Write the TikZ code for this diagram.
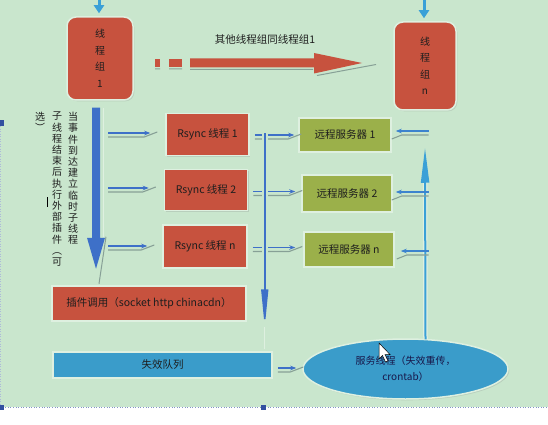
\documentclass[tikz,border=0pt]{standalone}
\usepackage{fontspec}
\setmainfont{Noto Sans CJK SC}
\usetikzlibrary{arrows.meta,calc,shadows,shapes.geometric}
\definecolor{bgc}{RGB}{201,230,205}
\definecolor{redc}{RGB}{199,82,62}
\definecolor{olivec}{RGB}{155,176,74}
\definecolor{bluec}{RGB}{58,156,202}
\definecolor{royal}{RGB}{62,112,200}
\definecolor{skyc}{RGB}{58,160,215}
\definecolor{shadc}{RGB}{135,160,150}
\definecolor{rimc}{RGB}{222,240,224}
\definecolor{gridc}{RGB}{50,80,160}
\definecolor{txtc}{RGB}{30,30,30}
\newcommand{\myrarrow}[2]{%
  \draw[shadc, line width=1.1pt] ($(#1)+(0,4)$) -- ($(#2)+(-6,4)$) -- ($(#2)+(7,-1)$);
  \draw[royal, line width=1.4pt, -{Stealth[length=6pt,width=4.5pt]}] (#1) -- (#2);}
\newcommand{\mylarrow}[2]{%
  \draw[shadc, line width=1.1pt] ($(#1)+(0,4)$) -- ($(#2)+(6,4)$) -- ($(#2)+(-4,8)$);
  \draw[royal!60!skyc, line width=1.4pt, -{Stealth[length=6pt,width=4.5pt]}] (#1) -- (#2);}
\begin{document}
\begin{tikzpicture}[x=1pt,y=-1pt,
  txt/.style={text=txtc},
  shad/.style={drop shadow={shadow xshift=1.3pt, shadow yshift=-1.3pt, opacity=.22}},
  grp/.style={rounded corners=9pt, fill=redc, draw=rimc, line width=1.5pt, align=center,
    inner sep=0pt, font=\fontsize{10}{16.5}\selectfont, text=txtc, shad},
  box/.style={fill=#1, draw=rimc, line width=1.5pt, inner sep=0pt,
    font=\fontsize{10.5}{13}\selectfont, text=txtc, shad},
  vcol/.style={anchor=north, align=center, inner sep=0pt, text=txtc,
    font=\fontsize{10}{11.2}\selectfont},
]
\useasboundingbox (0,0) rectangle (548,425);
% page background
\fill[bgc] (0,0) rectangle (548,407);
\fill[white] (0,407.5) rectangle (548,425);
\draw[gridc!60, dotted, line width=0.6pt] (0,407.5) -- (548,407.5);
\draw[gridc!40, dotted, line width=0.5pt] (0.6,126) -- (0.6,404);
\fill[gridc] (0,120) rectangle (4,126);
\fill[gridc] (0,404.5) rectangle (4,410);
\fill[gridc] (261,404.5) rectangle (266,410);

% nodes
\node[grp, minimum width=66pt, minimum height=83pt] (g1) at (100,58.5) {线\\程\\组\\1};
\node[grp, minimum width=62pt, minimum height=88pt] (gn) at (425,66) {线\\程\\组\\n};
\node[txt, font=\fontsize{10.5}{13}\selectfont] (lbl) at (265,40) {其他线程组同线程组1};
\node[box=redc, minimum width=83pt, minimum height=42pt] (r1) at (207.5,134.5) {Rsync 线程 1};
\node[box=redc, minimum width=83pt, minimum height=41pt] (r2) at (206,190) {Rsync 线程 2};
\node[box=redc, minimum width=84pt, minimum height=43pt] (rn) at (205,246.5) {Rsync 线程 n};
\node[box=redc, minimum width=194pt, minimum height=35pt] (plug) at (149,303.5) {插件调用（socket http chinacdn）};
\node[box=olivec, minimum width=92pt, minimum height=34pt] (s1) at (345,135) {远程服务器 1};
\node[box=olivec, minimum width=90pt, minimum height=37pt] (s2) at (347,193.5) {远程服务器 2};
\node[box=olivec, minimum width=90pt, minimum height=35pt] (sn) at (349,249.5) {远程服务器 n};
\node[box=bluec, minimum width=219pt, minimum height=26pt] (queue) at (162.5,365) {失效队列};
\node[ellipse, fill=bluec, draw=rimc, line width=1.5pt, shad, inner sep=0pt,
  minimum width=205pt, minimum height=60pt, align=center, text=txtc!80!blue,
  font=\fontsize{10}{16}\selectfont] (svc) at (405.5,369) {服务线程（失效重传，\\crontab）};

% vertical explanatory text (columns read right to left)
\node[vcol] (vt1) at (73,112) {当\\事\\件\\到\\达\\建\\立\\临\\时\\子\\线\\程};
\node[vcol] (vt2) at (57,112) {子\\线\\程\\结\\束\\后\\执\\行\\外\\部\\插\\件\\︵\\可};
\node[vcol] (vt3) at (40,112) {选\\︶};

% arrows from top into groups
\coordinate (t1) at (99,0);
\coordinate (tn) at (424,0);
\draw[skyc, line width=3pt, -{Triangle[length=8pt,width=10pt]}] (t1) -- ($(g1.north)+(-1,-3)$);
\draw[skyc, line width=3pt, -{Triangle[length=8pt,width=10pt]}] (tn) -- ($(gn.north)+(-1,-3)$);

% red arrow between groups
\draw[shadc, line width=1pt] (155,69) -- (160,69) (169,69) -- (182,69) (190,69.5) -- (313,69.5) (317,75.5) -- (376,64.5);
\fill[redc] (155,59) rectangle (160,67);
\fill[redc] (169,59) rectangle (182,67);
\fill[redc] (190,58.5) -- (314,58.5) -- (314,53) -- (362,63) -- (314,73.5) -- (314,67.5) -- (190,67.5) -- cycle;

% thick blue arrow downward from group 1
\coordinate (d0) at ($(g1.south)+(-4,7)$);
\draw[rimc, line width=1pt] ($(d0)+(7.5,0)$) -- ($(d0)+(7.5,129)$);
\draw[shadc, line width=1pt] ($(d0)+(10,129)$) -- ($(d0)+(3,176)$);
\fill[royal] ($(d0)+(-4,0)$) -- ($(d0)+(4,0)$) -- ($(d0)+(4,130)$) -- ($(d0)+(9,130)$)
  -- ($(d0)+(0,161)$) -- ($(d0)+(-9,130)$) -- ($(d0)+(-4,130)$) -- cycle;

% arrows into Rsync threads
\coordinate (a1) at (108,133);
\coordinate (a2) at (108,188);
\coordinate (a3) at (108,246);
\myrarrow{a1}{$(r1.west|-a1)+(-15,0)$}
\myrarrow{a2}{$(r2.west|-a2)+(-15,0)$}
\myrarrow{a3}{$(rn.west|-a3)+(-15,0)$}

% arrows from Rsync threads to remote servers
\coordinate (m1) at ($(s1.west)+(-4,0)$);
\coordinate (m2) at ($(s2.west)+(-6,-2)$);
\coordinate (m3) at ($(sn.west)+(-8,-2)$);
\myrarrow{$(r1.east|-m1)+(5,0)$}{m1}
\myrarrow{$(r2.east|-m2)+(5,0)$}{m2}
\myrarrow{$(rn.east|-m3)+(5,0)$}{m3}

% middle vertical arrow to failure queue
\coordinate (v0) at ($(r1.east)+(15,-1.5)$);
\coordinate (v1) at ($(queue.north east)+(-8,-24)$);
\draw[rimc, line width=1pt] (v1) -- ($(queue.north east)+(-8,-2)$);
\draw[bgc, line width=6pt] ($(v0)+(0,-2)$) -- ($(v1)+(0,-40)$);
\draw[royal, line width=1.5pt, -{Triangle[length=38pt,width=7pt]}] (v0) -- (v1);

% right vertical arrow from service process upward
\coordinate (w0) at ($(svc.north)+(20,1)$);
\coordinate (w1) at ($(gn.south)+(0,37)$);
\draw[rimc, line width=4.5pt] (w0) -- ($(w1)+(0,33)$);
\draw[skyc, line width=2pt, -{Triangle[length=35pt,width=8pt]}] (w0) -- (w1);

% arrows back to remote servers
\coordinate (b1) at ($(s1.east)+(4,-4)$);
\coordinate (b2) at ($(s2.east)+(3,-1.5)$);
\coordinate (b3) at ($(sn.east)+(6,1.5)$);
\mylarrow{$(w0|-b1)+(3,0)$}{b1}
\mylarrow{$(w0|-b2)+(3,0)$}{b2}
\mylarrow{$(w0|-b3)+(3,0)$}{b3}

% failure queue to service process
\coordinate (q0) at ($(queue.east)+(5,3)$);
\myrarrow{q0}{$(svc.west|-q0)+(-6,0)$}

% text caret and mouse pointer seen in the screenshot
\draw[black, line width=1.5pt] (47.5,197) -- (47.5,207);
\filldraw[fill=white, draw=black, line width=0.5pt] (379,343) -- (379,359) -- (382.5,355.5)
  -- (385.5,362) -- (388,361) -- (385,354.5) -- (390,354.5) -- cycle;
\end{tikzpicture}
\end{document}
